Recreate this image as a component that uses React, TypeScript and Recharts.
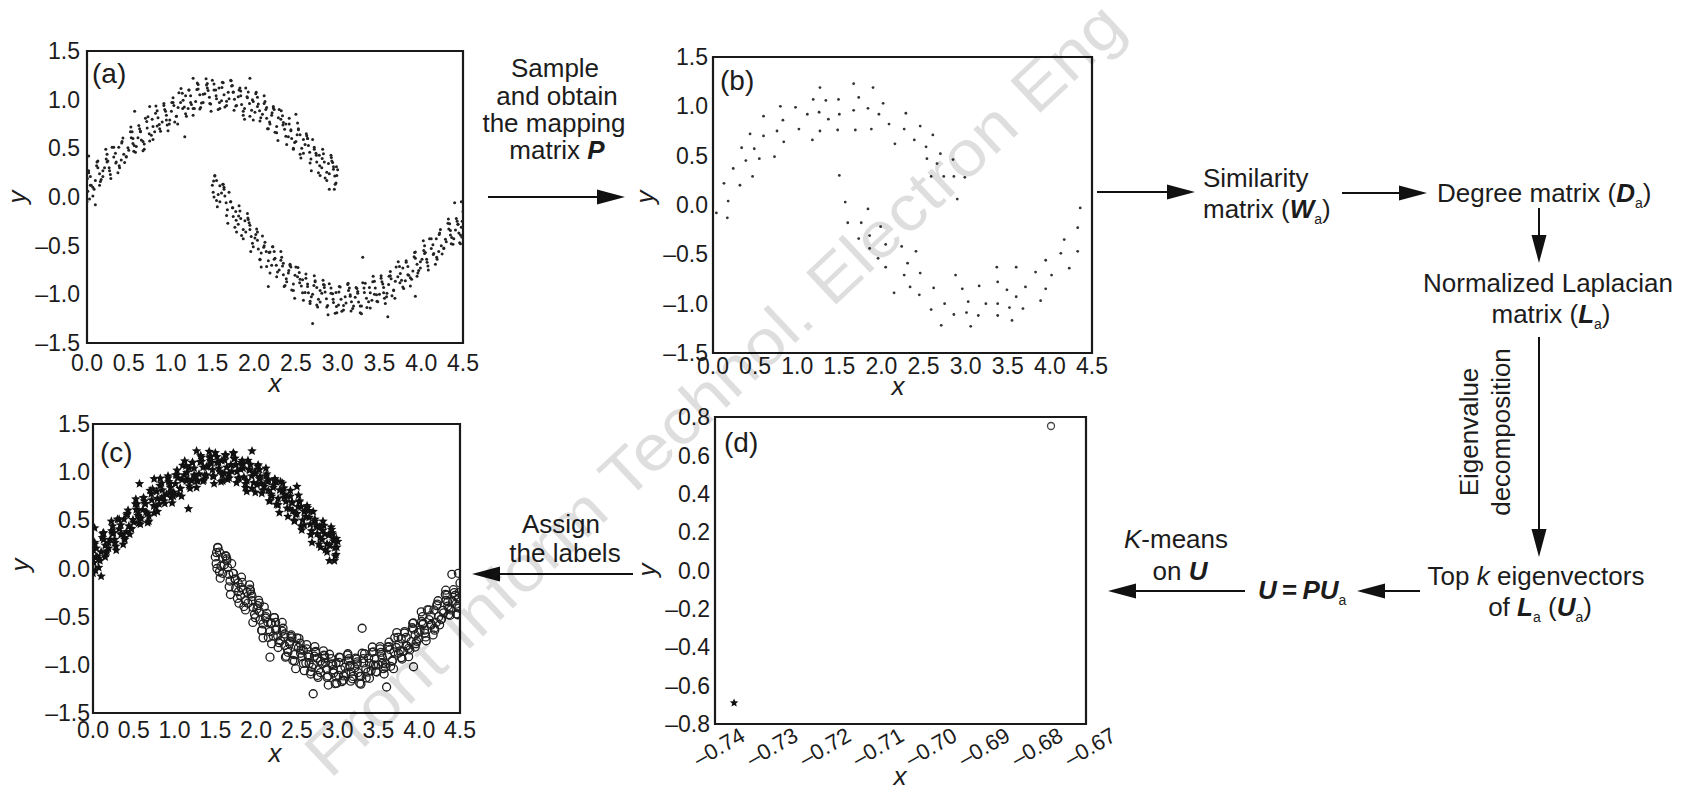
import { ScatterChart, Scatter, XAxis, YAxis, ReferenceArea } from 'recharts';
import type { ReactNode } from 'react';

const FONT = "'Liberation Sans', Arial, Helvetica, sans-serif";
const INK = '#1c1c1c';

// Two-moon data; reused for the labelled panel (c)
const upperMoon: [number, number][] = [
  [0.005, 0.19], [0.01, 0.06], [0.02, 0.25], [0.04, 0.12], [0.03, -0.02],
  [0.1, 0.17], [0.13, 0.3], [0.07, 0.1], [0.15, 0.24], [0.12, 0.36],
  [0.21, 0.3], [0.16, 0.16], [0.24, 0.36], [0.19, 0.21], [0.23, 0.39],
  [0.27, 0.27], [0.32, 0.41], [0.3, 0.51], [0.345, 0.35], [0.285, 0.19],
  [0.38, 0.51], [0.41, 0.38], [0.42, 0.57], [0.44, 0.44], [0.39, 0.3],
  [0.5, 0.48], [0.53, 0.61], [0.47, 0.41], [0.55, 0.55], [0.52, 0.67],
  [0.61, 0.61], [0.56, 0.47], [0.64, 0.67], [0.59, 0.52], [0.63, 0.7],
  [0.67, 0.57], [0.72, 0.71], [0.7, 0.81], [0.745, 0.65], [0.685, 0.49],
  [0.78, 0.8], [0.81, 0.67], [0.82, 0.86], [0.84, 0.73], [0.79, 0.59],
  [0.9, 0.77], [0.93, 0.9], [0.87, 0.7], [0.95, 0.84], [0.92, 0.96],
  [1.01, 0.88], [0.96, 0.74], [1.04, 0.94], [0.99, 0.79], [1.03, 0.97],
  [1.07, 0.83], [1.12, 0.97], [1.1, 1.07], [1.145, 0.91], [1.085, 0.75],
  [1.18, 1.04], [1.21, 0.91], [1.22, 1.1], [1.24, 0.97], [1.19, 0.83],
  [1.3, 0.98], [1.33, 1.11], [1.27, 0.91], [1.35, 1.05], [1.32, 1.17],
  [1.41, 1.06], [1.36, 0.92], [1.44, 1.12], [1.39, 0.97], [1.43, 1.15],
  [1.47, 0.96], [1.52, 1.1], [1.5, 1.2], [1.545, 1.04], [1.485, 0.88],
  [1.58, 1.12], [1.61, 0.99], [1.62, 1.18], [1.64, 1.05], [1.59, 0.91],
  [1.7, 1.01], [1.73, 1.14], [1.67, 0.94], [1.75, 1.08], [1.72, 1.2],
  [1.81, 1.03], [1.76, 0.89], [1.84, 1.09], [1.79, 0.94], [1.83, 1.12],
  [1.87, 0.88], [1.92, 1.02], [1.9, 1.12], [1.945, 0.96], [1.885, 0.8],
  [1.98, 1.0], [2.01, 0.87], [2.02, 1.06], [2.04, 0.93], [1.99, 0.79],
  [2.1, 0.85], [2.13, 0.98], [2.07, 0.78], [2.15, 0.92], [2.12, 1.04],
  [2.21, 0.84], [2.16, 0.7], [2.24, 0.9], [2.19, 0.75], [2.23, 0.93],
  [2.27, 0.66], [2.32, 0.8], [2.3, 0.9], [2.345, 0.74], [2.285, 0.58],
  [2.38, 0.75], [2.41, 0.62], [2.42, 0.81], [2.44, 0.68], [2.39, 0.54],
  [2.5, 0.57], [2.53, 0.7], [2.47, 0.5], [2.55, 0.64], [2.52, 0.76],
  [2.61, 0.54], [2.56, 0.4], [2.64, 0.6], [2.59, 0.45], [2.63, 0.63],
  [2.67, 0.35], [2.72, 0.49], [2.7, 0.59], [2.745, 0.43], [2.685, 0.27],
  [2.78, 0.43], [2.81, 0.3], [2.82, 0.49], [2.84, 0.36], [2.79, 0.22],
  [2.9, 0.24], [2.93, 0.37], [2.87, 0.17], [2.95, 0.31], [2.92, 0.43],
  [2.99, 0.22], [2.96, 0.08], [3.0, 0.28], [2.97, 0.13], [2.985, 0.31],
  [0.02, 0.27], [0.05, 0.12], [0.07, 0.01], [0.04, 0.21], [0.085, 0.08],
  [0.17, 0.18], [0.13, 0.37], [0.19, 0.27], [0.15, 0.12], [0.115, 0.32],
  [0.25, 0.37], [0.28, 0.23], [0.225, 0.49], [0.265, 0.3], [0.24, 0.44],
  [0.32, 0.51], [0.35, 0.36], [0.37, 0.25], [0.34, 0.45], [0.385, 0.32],
  [0.47, 0.415], [0.43, 0.605], [0.49, 0.505], [0.45, 0.355], [0.415, 0.555],
  [0.55, 0.6], [0.58, 0.46], [0.525, 0.72], [0.565, 0.53], [0.54, 0.67],
  [0.62, 0.735], [0.65, 0.585], [0.67, 0.475], [0.64, 0.675], [0.685, 0.545],
  [0.77, 0.635], [0.73, 0.825], [0.79, 0.725], [0.75, 0.575], [0.715, 0.775],
  [0.85, 0.815], [0.88, 0.675], [0.825, 0.935], [0.865, 0.745], [0.84, 0.885],
  [0.92, 0.94], [0.95, 0.79], [0.97, 0.68], [0.94, 0.88], [0.985, 0.75],
  [1.07, 0.83], [1.03, 1.02], [1.09, 0.92], [1.05, 0.77], [1.015, 0.97],
  [1.15, 0.995], [1.18, 0.855], [1.125, 1.115], [1.165, 0.925], [1.14, 1.065],
  [1.22, 1.1], [1.25, 0.95], [1.27, 0.84], [1.24, 1.04], [1.285, 0.91],
  [1.37, 0.965], [1.33, 1.155], [1.39, 1.055], [1.35, 0.905], [1.315, 1.105],
  [1.45, 1.095], [1.48, 0.955], [1.425, 1.215], [1.465, 1.025], [1.44, 1.165],
  [1.52, 1.16], [1.55, 1.01], [1.57, 0.9], [1.54, 1.1], [1.585, 0.97],
  [1.67, 0.985], [1.63, 1.175], [1.69, 1.075], [1.65, 0.925], [1.615, 1.125],
  [1.75, 1.075], [1.78, 0.935], [1.725, 1.195], [1.765, 1.005], [1.74, 1.145],
  [1.82, 1.1], [1.85, 0.95], [1.87, 0.84], [1.84, 1.04], [1.885, 0.91],
  [1.97, 0.89], [1.93, 1.08], [1.99, 0.98], [1.95, 0.83], [1.915, 1.03],
  [2.05, 0.955], [2.08, 0.815], [2.025, 1.075], [2.065, 0.885], [2.04, 1.025],
  [2.12, 0.96], [2.15, 0.81], [2.17, 0.7], [2.14, 0.9], [2.185, 0.77],
  [2.27, 0.725], [2.23, 0.915], [2.29, 0.815], [2.25, 0.665], [2.215, 0.865],
  [2.35, 0.765], [2.38, 0.625], [2.325, 0.885], [2.365, 0.695], [2.34, 0.835],
  [2.42, 0.75], [2.45, 0.6], [2.47, 0.49], [2.44, 0.69], [2.485, 0.56],
  [2.57, 0.5], [2.53, 0.69], [2.59, 0.59], [2.55, 0.44], [2.515, 0.64],
  [2.65, 0.53], [2.68, 0.39], [2.625, 0.65], [2.665, 0.46], [2.64, 0.6],
  [2.72, 0.51], [2.75, 0.36], [2.77, 0.25], [2.74, 0.45], [2.785, 0.32],
  [2.87, 0.255], [2.83, 0.445], [2.89, 0.345], [2.85, 0.195], [2.815, 0.395],
  [2.95, 0.285], [2.98, 0.145], [2.925, 0.405], [2.965, 0.215], [2.94, 0.355],
  [0.57, 0.88], [1.17, 0.62], [0.1, -0.08], [1.95, 1.22], [1.27, 1.22],
  [2.5, 0.85], [0.75, 0.93], [2.9, 0.08], [0.0, -0.05], [0.02, 0.42],
];

const lowerMoon: [number, number][] = [
  [1.5, 0.12], [1.53, 0.22], [1.51, 0.05], [1.55, 0.17], [1.52, 0.0],
  [1.61, 0.04], [1.56, -0.1], [1.64, 0.1], [1.59, -0.05], [1.63, 0.13],
  [1.67, -0.19], [1.72, -0.05], [1.7, 0.05], [1.745, -0.11], [1.685, -0.27],
  [1.78, -0.15], [1.81, -0.28], [1.82, -0.09], [1.84, -0.22], [1.79, -0.36],
  [1.9, -0.36], [1.93, -0.23], [1.87, -0.43], [1.95, -0.29], [1.92, -0.17],
  [2.01, -0.42], [1.96, -0.56], [2.04, -0.36], [1.99, -0.51], [2.03, -0.33],
  [2.07, -0.64], [2.12, -0.5], [2.1, -0.4], [2.145, -0.56], [2.085, -0.72],
  [2.18, -0.57], [2.21, -0.7], [2.22, -0.51], [2.24, -0.64], [2.19, -0.78],
  [2.3, -0.75], [2.33, -0.62], [2.27, -0.82], [2.35, -0.68], [2.32, -0.56],
  [2.41, -0.78], [2.36, -0.92], [2.44, -0.72], [2.39, -0.87], [2.43, -0.69],
  [2.47, -0.96], [2.52, -0.82], [2.5, -0.72], [2.545, -0.88], [2.485, -1.04],
  [2.58, -0.85], [2.61, -0.98], [2.62, -0.79], [2.64, -0.92], [2.59, -1.06],
  [2.7, -1.0], [2.73, -0.87], [2.67, -1.07], [2.75, -0.93], [2.72, -0.81],
  [2.81, -0.99], [2.76, -1.13], [2.84, -0.93], [2.79, -1.08], [2.83, -0.9],
  [2.87, -1.13], [2.92, -0.99], [2.9, -0.89], [2.945, -1.05], [2.885, -1.21],
  [2.98, -0.98], [3.01, -1.11], [3.02, -0.92], [3.04, -1.05], [2.99, -1.19],
  [3.1, -1.09], [3.13, -0.96], [3.07, -1.16], [3.15, -1.02], [3.12, -0.9],
  [3.21, -1.03], [3.16, -1.17], [3.24, -0.97], [3.19, -1.12], [3.23, -0.94],
  [3.27, -1.12], [3.32, -0.98], [3.3, -0.88], [3.345, -1.04], [3.285, -1.2],
  [3.38, -0.93], [3.41, -1.06], [3.42, -0.87], [3.44, -1.0], [3.39, -1.14],
  [3.5, -1.0], [3.53, -0.87], [3.47, -1.07], [3.55, -0.93], [3.52, -0.81],
  [3.61, -0.9], [3.56, -1.04], [3.64, -0.84], [3.59, -0.99], [3.63, -0.81],
  [3.67, -0.96], [3.72, -0.82], [3.7, -0.72], [3.745, -0.88], [3.685, -1.04],
  [3.78, -0.73], [3.81, -0.86], [3.82, -0.67], [3.84, -0.8], [3.79, -0.94],
  [3.9, -0.76], [3.93, -0.63], [3.87, -0.83], [3.95, -0.69], [3.92, -0.57],
  [4.01, -0.64], [3.96, -0.78], [4.04, -0.58], [3.99, -0.73], [4.03, -0.55],
  [4.07, -0.67], [4.12, -0.53], [4.1, -0.43], [4.145, -0.59], [4.085, -0.75],
  [4.18, -0.43], [4.21, -0.56], [4.22, -0.37], [4.24, -0.5], [4.19, -0.64],
  [4.3, -0.46], [4.33, -0.33], [4.27, -0.53], [4.35, -0.39], [4.32, -0.27],
  [4.41, -0.34], [4.36, -0.48], [4.44, -0.28], [4.39, -0.43], [4.43, -0.25],
  [4.47, -0.39], [4.49, -0.25], [4.5, -0.15], [4.48, -0.31], [4.46, -0.47],
  [1.57, 0.025], [1.53, 0.215], [1.59, 0.115], [1.55, -0.035], [1.515, 0.165],
  [1.65, 0.01], [1.68, -0.13], [1.625, 0.13], [1.665, -0.06], [1.64, 0.08],
  [1.72, -0.05], [1.75, -0.2], [1.77, -0.31], [1.74, -0.11], [1.785, -0.24],
  [1.87, -0.335], [1.83, -0.145], [1.89, -0.245], [1.85, -0.395], [1.815, -0.195],
  [1.95, -0.335], [1.98, -0.475], [1.925, -0.215], [1.965, -0.405], [1.94, -0.265],
  [2.02, -0.385], [2.05, -0.535], [2.07, -0.645], [2.04, -0.445], [2.085, -0.575],
  [2.17, -0.655], [2.13, -0.465], [2.19, -0.565], [2.15, -0.715], [2.115, -0.515],
  [2.25, -0.63], [2.28, -0.77], [2.225, -0.51], [2.265, -0.7], [2.24, -0.56],
  [2.32, -0.65], [2.35, -0.8], [2.37, -0.91], [2.34, -0.71], [2.385, -0.84],
  [2.47, -0.895], [2.43, -0.705], [2.49, -0.805], [2.45, -0.955], [2.415, -0.755],
  [2.55, -0.845], [2.58, -0.985], [2.525, -0.725], [2.565, -0.915], [2.54, -0.775],
  [2.62, -0.835], [2.65, -0.985], [2.67, -1.095], [2.64, -0.895], [2.685, -1.025],
  [2.77, -1.05], [2.73, -0.86], [2.79, -0.96], [2.75, -1.11], [2.715, -0.91],
  [2.85, -0.975], [2.88, -1.115], [2.825, -0.855], [2.865, -1.045], [2.84, -0.905],
  [2.92, -0.935], [2.95, -1.085], [2.97, -1.195], [2.94, -0.995], [2.985, -1.125],
  [3.07, -1.115], [3.03, -0.925], [3.09, -1.025], [3.05, -1.175], [3.015, -0.975],
  [3.15, -1.005], [3.18, -1.145], [3.125, -0.885], [3.165, -1.075], [3.14, -0.935],
  [3.22, -0.93], [3.25, -1.08], [3.27, -1.19], [3.24, -0.99], [3.285, -1.12],
  [3.37, -1.075], [3.33, -0.885], [3.39, -0.985], [3.35, -1.135], [3.315, -0.935],
  [3.45, -0.935], [3.48, -1.075], [3.425, -0.815], [3.465, -1.005], [3.44, -0.865],
  [3.52, -0.835], [3.55, -0.985], [3.57, -1.095], [3.54, -0.895], [3.585, -1.025],
  [3.67, -0.955], [3.63, -0.765], [3.69, -0.865], [3.65, -1.015], [3.615, -0.815],
  [3.75, -0.785], [3.78, -0.925], [3.725, -0.665], [3.765, -0.855], [3.74, -0.715],
  [3.82, -0.655], [3.85, -0.805], [3.87, -0.915], [3.84, -0.715], [3.885, -0.845],
  [3.97, -0.755], [3.93, -0.565], [3.99, -0.665], [3.95, -0.815], [3.915, -0.615],
  [4.05, -0.57], [4.08, -0.71], [4.025, -0.45], [4.065, -0.64], [4.04, -0.5],
  [4.12, -0.43], [4.15, -0.58], [4.17, -0.69], [4.14, -0.49], [4.185, -0.62],
  [4.27, -0.525], [4.23, -0.335], [4.29, -0.435], [4.25, -0.585], [4.215, -0.385],
  [4.35, -0.345], [4.38, -0.485], [4.325, -0.225], [4.365, -0.415], [4.34, -0.275],
  [4.42, -0.22], [4.45, -0.37], [4.47, -0.48], [4.44, -0.28], [4.485, -0.41],
  [4.4, -0.06], [3.93, -1.02], [3.6, -1.23], [2.7, -1.3], [2.17, -0.92],
  [4.48, -0.05], [3.3, -0.62],
];

// Sampled points shown in panel (b)
const sampledPoints: [number, number][] = [
  [1.27, 1.19], [1.67, 1.23], [1.9, 1.19], [1.19, 1.07], [1.34, 1.06], [1.49, 1.07],
  [1.73, 1.09], [0.8, 1.0], [0.98, 0.99], [1.12, 0.92], [1.26, 0.94], [1.37, 0.87],
  [1.5, 0.92], [1.67, 0.96], [1.84, 0.98], [2.02, 1.03], [1.97, 0.92], [2.09, 0.82],
  [2.29, 0.93], [0.6, 0.9], [0.83, 0.86], [1.02, 0.77], [0.76, 0.75], [0.44, 0.72],
  [0.6, 0.7], [0.84, 0.64], [1.18, 0.66], [1.27, 0.75], [1.48, 0.76], [1.69, 0.76],
  [1.88, 0.77], [2.27, 0.77], [2.46, 0.8], [2.61, 0.71], [2.16, 0.62], [2.39, 0.66],
  [2.53, 0.59], [0.34, 0.58], [0.49, 0.57], [0.39, 0.45], [0.55, 0.47], [0.73, 0.49],
  [0.24, 0.37], [0.47, 0.29], [0.13, 0.22], [0.32, 0.2], [0.04, -0.08], [0.18, 0.04],
  [0.17, -0.13], [2.7, 0.52], [2.85, 0.46], [2.54, 0.47], [2.66, 0.42], [2.59, 0.29],
  [2.74, 0.29], [2.86, 0.29], [2.99, 0.28], [2.9, 0.06], [1.5, 0.3], [1.57, 0.03],
  [1.84, -0.04], [1.6, -0.18], [1.76, -0.18], [1.99, -0.22], [1.86, -0.31], [1.73, -0.34],
  [1.86, -0.44], [2.05, -0.4], [2.24, -0.42], [2.41, -0.47], [1.96, -0.54], [2.05, -0.63],
  [2.31, -0.59], [2.27, -0.71], [2.46, -0.69], [2.88, -0.71], [2.34, -0.83], [2.45, -0.91],
  [2.15, -0.89], [2.62, -0.84], [2.75, -1.0], [2.59, -1.06], [2.96, -0.85], [3.03, -0.98],
  [2.86, -1.11], [3.01, -1.09], [3.15, -1.12], [2.71, -1.22], [3.06, -1.23], [3.16, -0.82],
  [3.24, -1.0], [3.38, -1.0], [3.38, -1.12], [3.38, -0.78], [3.37, -0.63], [3.49, -0.86],
  [3.52, -1.04], [3.55, -1.17], [3.6, -0.93], [3.6, -0.63], [3.68, -1.05], [3.71, -0.83],
  [3.83, -0.68], [3.89, -0.97], [3.95, -0.56], [3.95, -0.85], [4.02, -0.71], [4.13, -0.49],
  [4.23, -0.64], [4.17, -0.35], [4.33, -0.47], [4.33, -0.23], [4.36, -0.03],
];

// Panel (d): the two points of U
const clusterStar: [number, number][] = [[-0.7364, -0.69]];
const clusterCircle: [number, number][] = [[-0.6766, 0.753]];

const moonXTicks = [0, 0.5, 1, 1.5, 2, 2.5, 3, 3.5, 4, 4.5];
const moonYTicks = [-1.5, -1, -0.5, 0, 0.5, 1, 1.5];
const eigXTicks = [-0.74, -0.73, -0.72, -0.71, -0.7, -0.69, -0.68, -0.67];
const eigYTicks = [-0.8, -0.6, -0.4, -0.2, 0, 0.2, 0.4, 0.6, 0.8];

const toPts = (arr: [number, number][]) => arr.map(([x, y]) => ({ x, y }));
const fmt = (v: number, d: number) => v.toFixed(d).replace('-', '\u2013');

const starPath = (cx: number, cy: number, r: number) => {
  let d = '';
  for (let i = 0; i < 10; i++) {
    const rr = i % 2 ? r * 0.45 : r;
    const a = -Math.PI / 2 + (i * Math.PI) / 5;
    d += (i ? 'L' : 'M') + (cx + rr * Math.cos(a)).toFixed(2) + ',' + (cy + rr * Math.sin(a)).toFixed(2);
  }
  return d + 'Z';
};

const dot = (r: number, color: string) => (p: any) => <circle cx={p.cx} cy={p.cy} r={r} fill={color} />;
const ring = (r: number, color: string) => (p: any) => <circle cx={p.cx} cy={p.cy} r={r} fill="none" stroke={color} strokeWidth={1.3} />;
const star = (r: number) => (p: any) => <path d={starPath(p.cx, p.cy, r)} fill="#111" />;

type PanelProps = {
  box: [number, number, number, number];
  xDomain: [number, number];
  yDomain: [number, number];
  xTicks: number[];
  yTicks: number[];
  xDigits: number;
  yDigits: number;
  xGap: number;
  yGap: number;
  rotateX?: boolean;
  children: ReactNode;
};

const Panel = ({ box, xDomain, yDomain, xTicks, yTicks, xDigits, yDigits, xGap, yGap, rotateX, children }: PanelProps) => {
  const [l, t, w, h] = box;
  const xTick = (p: any) =>
    rotateX ? (
      <g transform={`translate(${p.x},${p.y})`}>
        <text transform="rotate(-30)" textAnchor="middle" dy="0.71em" fontSize={22} fill={INK} fontFamily={FONT}>
          {fmt(p.payload.value, xDigits)}
        </text>
      </g>
    ) : (
      <text x={p.x} y={p.y} dy="0.71em" textAnchor="middle" fontSize={23} fill={INK} fontFamily={FONT}>
        {fmt(p.payload.value, xDigits)}
      </text>
    );
  const yTick = (p: any) => (
    <text x={p.x} y={p.y} dy="0.355em" textAnchor="end" fontSize={23} fill={INK} fontFamily={FONT}>
      {fmt(p.payload.value, yDigits)}
    </text>
  );
  return (
    <div style={{ position: 'absolute', left: l - 80, top: t - 20 }}>
      <ScatterChart width={w + 130} height={h + 80} margin={{ top: 20, right: 50, bottom: 0, left: 0 }}>
        <XAxis
          type="number"
          dataKey="x"
          domain={xDomain}
          ticks={xTicks}
          interval={0}
          allowDataOverflow
          height={60}
          tickLine={false}
          axisLine={false}
          tickSize={0}
          tickMargin={xGap}
          tick={xTick}
        />
        <YAxis
          type="number"
          dataKey="y"
          domain={yDomain}
          ticks={yTicks}
          interval={0}
          allowDataOverflow
          width={80}
          tickLine={false}
          axisLine={false}
          tickSize={0}
          tickMargin={yGap}
          tick={yTick}
        />
        <ReferenceArea
          x1={xDomain[0]}
          x2={xDomain[1]}
          y1={yDomain[0]}
          y2={yDomain[1]}
          fill="none"
          stroke="#1a1a1a"
          strokeWidth={2.2}
          ifOverflow="visible"
        />
        {children}
      </ScatterChart>
    </div>
  );
};

const Arrow = ({ x1, y1, x2, y2 }: { x1: number; y1: number; x2: number; y2: number }) => {
  const len = Math.hypot(x2 - x1, y2 - y1);
  const ux = (x2 - x1) / len;
  const uy = (y2 - y1) / len;
  const hl = 28;
  const hw = 7.5;
  const bx = x2 - ux * hl;
  const by = y2 - uy * hl;
  return (
    <g>
      <line x1={x1} y1={y1} x2={bx + ux * 2} y2={by + uy * 2} stroke="#111" strokeWidth={2} />
      <polygon points={`${x2},${y2} ${bx - uy * hw},${by + ux * hw} ${bx + uy * hw},${by - ux * hw}`} fill="#111" />
    </g>
  );
};

const BI = ({ children }: { children: ReactNode }) => (
  <tspan fontWeight="bold" fontStyle="italic">{children}</tspan>
);

const App = () => {
  const txt = { fontSize: 26, fill: INK, fontFamily: FONT };
  const axisTitle = { fontSize: 26, fill: INK, fontFamily: FONT, fontStyle: 'italic' as const };
  const panelLbl = { fontSize: 28, fill: INK, fontFamily: FONT };
  return (
    <div style={{ position: 'absolute', left: 0, top: 0, width: 1692, height: 792, overflow: 'hidden', background: '#fff', fontFamily: FONT }}>
      <Panel box={[87, 51, 376, 292]} xDomain={[0, 4.5]} yDomain={[-1.5, 1.5]} xTicks={moonXTicks} yTicks={moonYTicks}
        xDigits={1} yDigits={1} xGap={12} yGap={7}>
        <Scatter data={toPts(upperMoon)} shape={dot(1.5, '#222')} isAnimationActive={false} />
        <Scatter data={toPts(lowerMoon)} shape={dot(1.5, '#222')} isAnimationActive={false} />
      </Panel>
      <Panel box={[713, 57, 379, 296]} xDomain={[0, 4.5]} yDomain={[-1.5, 1.5]} xTicks={moonXTicks} yTicks={moonYTicks}
        xDigits={1} yDigits={1} xGap={5} yGap={5}>
        <Scatter data={toPts(sampledPoints)} shape={dot(1.4, '#333')} isAnimationActive={false} />
      </Panel>
      <Panel box={[93, 424, 367, 289]} xDomain={[0, 4.5]} yDomain={[-1.5, 1.5]} xTicks={moonXTicks} yTicks={moonYTicks}
        xDigits={1} yDigits={1} xGap={9} yGap={3}>
        <Scatter data={toPts(lowerMoon)} shape={ring(4, '#1e1e1e')} isAnimationActive={false} />
        <Scatter data={toPts(upperMoon)} shape={star(5)} isAnimationActive={false} />
      </Panel>
      <Panel box={[715, 417, 371, 307]} xDomain={[-0.74, -0.67]} yDomain={[-0.8, 0.8]} xTicks={eigXTicks} yTicks={eigYTicks}
        xDigits={2} yDigits={1} xGap={16} yGap={5} rotateX>
        <Scatter data={toPts(clusterCircle)} shape={ring(3.5, '#444')} isAnimationActive={false} />
        <Scatter data={toPts(clusterStar)} shape={star(4.5)} isAnimationActive={false} />
      </Panel>

      <svg width={1692} height={792} style={{ position: 'absolute', left: 0, top: 0, pointerEvents: 'none' }}>
        {/* panel tags and axis titles */}
        <text x={92} y={83} {...panelLbl}>(a)</text>
        <text x={720} y={90} {...panelLbl}>(b)</text>
        <text x={100} y={462} {...panelLbl}>(c)</text>
        <text x={724} y={452} {...panelLbl}>(d)</text>
        <text x={275} y={392} textAnchor="middle" {...axisTitle}>x</text>
        <text x={898} y={395} textAnchor="middle" {...axisTitle}>x</text>
        <text x={275} y={762} textAnchor="middle" {...axisTitle}>x</text>
        <text x={900} y={785} textAnchor="middle" {...axisTitle}>x</text>
        <text x={26} y={197} textAnchor="middle" transform="rotate(-90 26 197)" {...axisTitle}>y</text>
        <text x={654} y={197} textAnchor="middle" transform="rotate(-90 654 197)" {...axisTitle}>y</text>
        <text x={29} y={565} textAnchor="middle" transform="rotate(-90 29 565)" {...axisTitle}>y</text>
        <text x={656} y={570} textAnchor="middle" transform="rotate(-90 656 570)" {...axisTitle}>y</text>

        {/* flow arrows */}
        <Arrow x1={488} y1={197} x2={625} y2={197} />
        <Arrow x1={1097} y1={192} x2={1195} y2={192} />
        <Arrow x1={1342} y1={193} x2={1427} y2={193} />
        <Arrow x1={1539} y1={208} x2={1539} y2={263} />
        <Arrow x1={1539} y1={337} x2={1539} y2={557} />
        <Arrow x1={1420} y1={591} x2={1357} y2={591} />
        <Arrow x1={1245} y1={591} x2={1108} y2={591} />
        <Arrow x1={633} y1={574} x2={472} y2={574} />

        {/* flow text */}
        <text x={555} y={77} textAnchor="middle" {...txt}>Sample</text>
        <text x={557} y={105} textAnchor="middle" {...txt}>and obtain</text>
        <text x={554} y={132} textAnchor="middle" {...txt}>the mapping</text>
        <text x={557} y={159} textAnchor="middle" {...txt}>matrix <BI>P</BI></text>

        <text x={1203} y={187} {...txt}>Similarity</text>
        <text x={1203} y={218} {...txt}>
          matrix (<BI>W</BI><tspan fontSize={14} dy={6}>a</tspan><tspan dy={-6}>)</tspan>
        </text>
        <text x={1437} y={202} {...txt}>
          Degree matrix (<BI>D</BI><tspan fontSize={14} dy={6}>a</tspan><tspan dy={-6}>)</tspan>
        </text>
        <text x={1548} y={292} textAnchor="middle" {...txt}>Normalized Laplacian</text>
        <text x={1551} y={323} textAnchor="middle" {...txt}>
          matrix (<BI>L</BI><tspan fontSize={14} dy={6}>a</tspan><tspan dy={-6}>)</tspan>
        </text>
        <text x={1478} y={432} textAnchor="middle" transform="rotate(-90 1478 432)" {...txt}>Eigenvalue</text>
        <text x={1510} y={432} textAnchor="middle" transform="rotate(-90 1510 432)" {...txt}>decomposition</text>
        <text x={1536} y={585} textAnchor="middle" {...txt}>
          Top <tspan fontStyle="italic">k</tspan> eigenvectors
        </text>
        <text x={1540} y={616} textAnchor="middle" {...txt}>
          of <BI>L</BI><tspan fontSize={14} dy={6}>a</tspan><tspan dy={-6}> (</tspan><BI>U</BI>
          <tspan fontSize={14} dy={6}>a</tspan><tspan dy={-6}>)</tspan>
        </text>
        <text x={1258} y={599} {...txt}>
          <BI>U</BI><tspan fontWeight="bold">{'\u2009=\u2009'}</tspan><BI>PU</BI><tspan fontSize={14} dy={6}>a</tspan>
        </text>
        <text x={1176} y={548} textAnchor="middle" {...txt}>
          <tspan fontStyle="italic">K</tspan>-means
        </text>
        <text x={1180} y={580} textAnchor="middle" {...txt}>
          on <BI>U</BI>
        </text>
        <text x={561} y={533} textAnchor="middle" {...txt}>Assign</text>
        <text x={565} y={562} textAnchor="middle" {...txt}>the labels</text>

        {/* journal watermark */}
        <text
          x={330}
          y={780}
          transform="rotate(-43.2 330 780)"
          fontSize={64}
          textLength={1095}
          lengthAdjust="spacingAndGlyphs"
          fill="#000"
          fillOpacity={0.13}
          fontFamily={FONT}
        >
          Front Inform Technol. Electron Eng
        </text>
      </svg>
    </div>
  );
};

export default App;
